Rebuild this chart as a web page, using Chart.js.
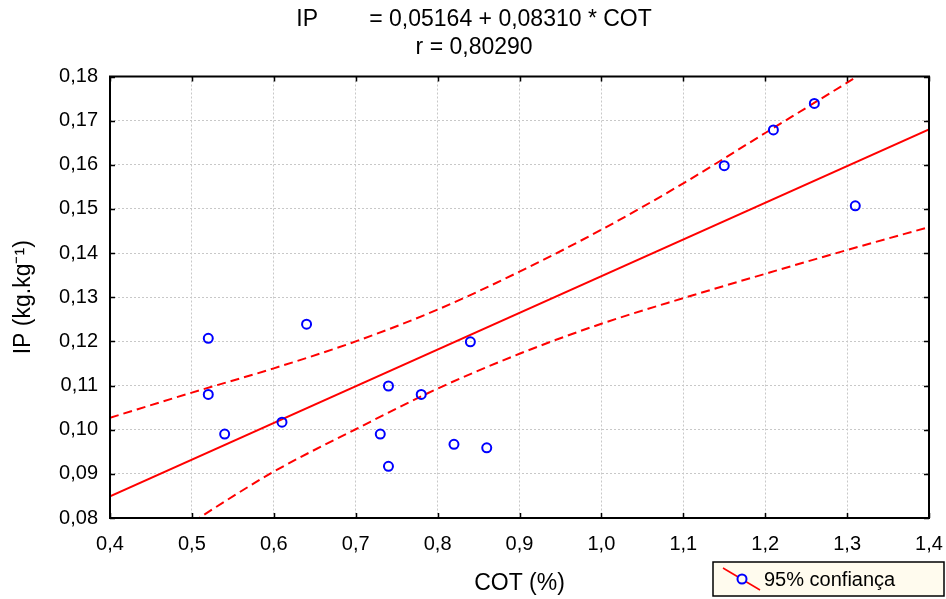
<!DOCTYPE html>
<html>
<head>
<meta charset="utf-8">
<script src="https://cdn.jsdelivr.net/npm/chart.js@4.4.0/dist/chart.umd.min.js"></script>
<style>
  html, body { margin: 0; padding: 0; background: #fff; }
  #wrap { width: 946px; height: 599px; position: relative; }
</style>
</head>
<body>
<div id="wrap"><canvas id="chart"></canvas></div>
<script>
// =========================
// DATA
// =========================
const cot = [0.52, 0.52, 0.54, 0.61, 0.64, 0.73, 0.74, 0.74, 0.78, 0.82, 0.84, 0.86, 1.15, 1.21, 1.26, 1.31];
const ip = [0.1207, 0.1080, 0.0990, 0.1017, 0.1239, 0.0990, 0.1099, 0.0917, 0.1080, 0.0967, 0.1199, 0.0959, 0.1598, 0.1679, 0.1739, 0.1507];

// fitted line, ends at the axis limits
const regX = [0.4, 1.4];
const regY = [0.0849, 0.1680];

// 95% band, read every 0.1
const bandX = [0.4, 0.5, 0.6, 0.7, 0.8, 0.9, 1.0, 1.1, 1.2, 1.3, 1.4];
const bandUpper = [0.1027, 0.1084, 0.1139, 0.1200, 0.1272, 0.1358, 0.1453, 0.1558, 0.1672, 0.1786, 0.1901];
const bandLower = [0.0671, 0.0790, 0.0905, 0.1001, 0.1093, 0.1172, 0.1240, 0.1298, 0.1353, 0.1407, 0.1459];

const xTickValues = [0.4, 0.5, 0.6, 0.7, 0.8, 0.9, 1.0, 1.1, 1.2, 1.3, 1.4];
const yTickValues = [0.08, 0.09, 0.10, 0.11, 0.12, 0.13, 0.14, 0.15, 0.16, 0.17, 0.18];

const titleLines = ["   IP        = 0,05164 + 0,08310 * COT", "   r = 0,80290"];
const legendLabel = "95% confiança";

const FONT = "'Liberation Sans', Arial, sans-serif";
const RED = "#ff0000";
const BLUE = "#0000ff";

function toXY(xs, ys) {
  return xs.map((v, i) => ({ x: v, y: ys[i] }));
}

// frame, inward tick marks and the small legend box
const framePlugin = {
  id: "frame",
  afterDraw(chart) {
    const { ctx, chartArea: a, scales } = chart;
    const x = scales.x;
    const y = scales.y;
    ctx.save();
    ctx.strokeStyle = "#000";
    ctx.lineWidth = 1.5;
    ctx.beginPath();
    x.ticks.forEach((t) => {
      const px = Math.round(x.getPixelForValue(t.value)) + 0.5;
      ctx.moveTo(px, a.bottom); ctx.lineTo(px, a.bottom - 5);
      ctx.moveTo(px, a.top); ctx.lineTo(px, a.top + 5);
    });
    y.ticks.forEach((t) => {
      const py = Math.round(y.getPixelForValue(t.value)) + 0.5;
      ctx.moveTo(a.left, py); ctx.lineTo(a.left + 5, py);
      ctx.moveTo(a.right, py); ctx.lineTo(a.right - 5, py);
    });
    ctx.stroke();

    ctx.lineWidth = 2;
    ctx.strokeRect(a.left, a.top, a.right - a.left, a.bottom - a.top);

    // legend
    const bx = 713, by = 562, bw = 231, bh = 34;
    ctx.fillStyle = "#fffbee";
    ctx.fillRect(bx, by, bw, bh);
    ctx.lineWidth = 1.5;
    ctx.strokeStyle = "#000";
    ctx.strokeRect(bx, by, bw, bh);

    ctx.strokeStyle = RED;
    ctx.lineWidth = 1.5;
    ctx.beginPath();
    ctx.moveTo(723, 568);
    ctx.lineTo(760, 590);
    ctx.stroke();
    ctx.strokeStyle = BLUE;
    ctx.lineWidth = 2;
    ctx.fillStyle = "#fffbee";
    ctx.beginPath();
    ctx.arc(742, 579, 4.5, 0, Math.PI * 2);
    ctx.fill();
    ctx.stroke();

    ctx.fillStyle = "#000";
    ctx.font = "20px " + FONT;
    ctx.textBaseline = "middle";
    ctx.textAlign = "left";
    ctx.fillText(legendLabel, 764, 580);
    ctx.restore();
  },
};

const ctx = document.getElementById("chart").getContext("2d");
const chart = new Chart(ctx, {
  type: "scatter",
  data: {
    datasets: [
      {
        label: legendLabel,
        data: toXY(cot, ip),
        pointRadius: 4.5,
        pointBorderWidth: 2,
        pointBorderColor: BLUE,
        pointBackgroundColor: "rgba(0,0,0,0)",
        showLine: false,
      },
      {
        label: "reta",
        data: toXY(regX, regY),
        showLine: true,
        borderColor: RED,
        borderWidth: 2,
        pointRadius: 0,
      },
      {
        label: "sup",
        data: toXY(bandX, bandUpper),
        showLine: true,
        borderColor: RED,
        borderWidth: 2,
        borderDash: [9, 5],
        pointRadius: 0,
        cubicInterpolationMode: "monotone",
      },
      {
        label: "inf",
        data: toXY(bandX, bandLower),
        showLine: true,
        borderColor: RED,
        borderWidth: 2,
        borderDash: [9, 5],
        pointRadius: 0,
        cubicInterpolationMode: "monotone",
      },
    ],
  },
  options: {
    responsive: true,
    maintainAspectRatio: false,
    animation: false,
    layout: { padding: { top: 0, left: 0, right: 17, bottom: 0 } },
    plugins: {
      legend: { display: false },
      tooltip: { enabled: false },
      title: {
        display: true,
        text: titleLines,
        color: "#000",
        font: { family: FONT, size: 23, weight: "normal", lineHeight: 1.25 },
        padding: { top: 5, bottom: 14 },
      },
    },
    scales: {
      x: {
        type: "linear",
        min: 0.4,
        max: 1.4,
        afterBuildTicks: (s) => { s.ticks = xTickValues.map((v) => ({ value: v })); },
        afterFit: (s) => { s.height = 81; s.paddingLeft = 0; s.paddingRight = 0; },
        ticks: {
          padding: 14,
          color: "#000",
          font: { family: FONT, size: 20 },
          callback: (v) => Number(v).toFixed(1).replace(".", ","),
        },
        grid: { color: "#c8c8c8", lineWidth: 1, drawTicks: false },
        border: { display: false, dash: [2, 2] },
        title: {
          display: true,
          text: "COT (%)",
          color: "#000",
          font: { family: FONT, size: 23 },
          padding: { bottom: 2 },
        },
      },
      y: {
        type: "linear",
        min: 0.08,
        max: 0.18,
        afterBuildTicks: (s) => { s.ticks = yTickValues.map((v) => ({ value: v })); },
        afterFit: (s) => { s.width = 110; s.paddingTop = 0; s.paddingBottom = 0; },
        ticks: {
          padding: 12,
          color: "#000",
          font: { family: FONT, size: 20 },
          callback: (v) => Number(v).toFixed(2).replace(".", ","),
        },
        grid: { color: "#c8c8c8", lineWidth: 1, drawTicks: false },
        border: { display: false, dash: [2, 2] },
        title: {
          display: true,
          text: "IP (kg.kg⁻¹)",
          color: "#000",
          font: { family: FONT, size: 23 },
          padding: { top: 10 },
        },
      },
    },
  },
  plugins: [framePlugin],
});
</script>
</body>
</html>
